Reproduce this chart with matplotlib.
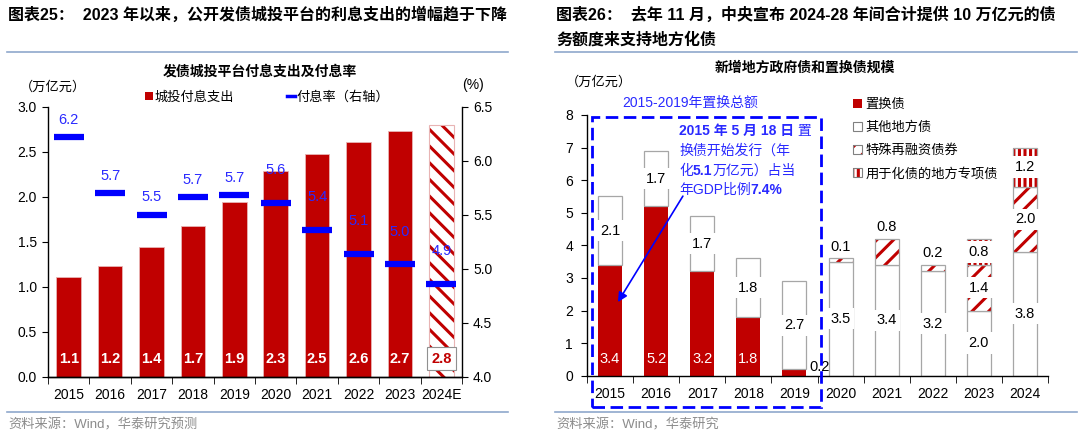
import numpy as np
import matplotlib
matplotlib.use('Agg')
import matplotlib.pyplot as plt
from matplotlib.patches import Patch, Rectangle
from matplotlib.lines import Line2D
from matplotlib.ticker import FormatStrFormatter, MultipleLocator

plt.rcParams['font.family'] = ['Liberation Sans', 'Noto Sans CJK SC']
plt.rcParams['hatch.linewidth'] = 2.2
plt.rcParams['axes.linewidth'] = 1.0

RED = '#c00000'
BLUE = '#0000ff'
TXTBLUE = '#2a2aff'
EDGE = '#a6a6a6'
RULE = '#8fa8cc'

# left chart: interest paid by LGFV bond issuers (trn yuan) and rate (%)
years_l = ['2015', '2016', '2017', '2018', '2019', '2020', '2021', '2022', '2023', '2024E']
interest = [1.11, 1.23, 1.44, 1.67, 1.94, 2.29, 2.47, 2.61, 2.73, 2.80]
rate = [6.22, 5.70, 5.50, 5.66, 5.68, 5.61, 5.36, 5.14, 5.04, 4.86]

# right chart: new local gov bonds and swap bonds (trn yuan)
years_r = ['2015', '2016', '2017', '2018', '2019', '2020', '2021', '2022', '2023', '2024']
swap = [3.4, 5.2, 3.2, 1.8, 0.2, 0, 0, 0, 0, 0]
other = [2.1, 1.7, 1.7, 1.8, 2.7, 3.5, 3.4, 3.2, 2.0, 3.8]
refi = [0, 0, 0, 0, 0, 0.1, 0.8, 0.2, 1.4, 2.0]
local = [0, 0, 0, 0, 0, 0, 0, 0, 0.8, 1.2]

W, H = 1080, 437


def fx(px):
    return px / W


def fy(py):
    return 1 - py / H


fig = plt.figure(figsize=(W / 100, H / 100), dpi=100)

# ---------------- left panel ----------------
ax1 = fig.add_axes([fx(48), fy(376.7), fx(462 - 48), (376.7 - 106.7) / H])
x1 = np.arange(len(years_l))
ax1.bar(x1[:-1], interest[:-1], 0.59, color=RED, edgecolor='#e8b4b4', linewidth=0.6, zorder=2)
ax1.bar(x1[-1:], interest[-1:], 0.59, color='white', edgecolor=RED, hatch='\\\\', linewidth=0, zorder=2)
ax1.bar(x1[-1:], interest[-1:], 0.59, fill=False, edgecolor='#e8b4b4', linewidth=0.8, zorder=2)
for i, v in enumerate(interest):
    if i < len(interest) - 1:
        ax1.text(i, 0.2, f'{v:.1f}', ha='center', va='center', color='white',
                 fontsize=10.5, fontweight='bold', zorder=3)
    else:
        ax1.text(i, 0.2, f'{v:.1f}', ha='center', va='center', color=RED,
                 fontsize=10.5, fontweight='bold', zorder=3,
                 bbox=dict(boxstyle='square,pad=0.3', facecolor='white', edgecolor='#909090', lw=0.8))

ax1.set_xlim(-0.5, 9.5)
ax1.set_ylim(0, 3)
ax1.yaxis.set_major_locator(MultipleLocator(0.5))
ax1.yaxis.set_major_formatter(FormatStrFormatter('%.1f'))
ax1.set_xticks(x1, years_l)
ax1.set_xticks(np.arange(-0.5, 10, 1), minor=True)
ax1.tick_params(axis='x', which='major', length=0, pad=8, labelsize=10)
ax1.tick_params(axis='x', which='minor', length=5, direction='out')
ax1.tick_params(axis='y', length=4, direction='out', labelsize=10, pad=4)
ax1.spines['top'].set_visible(False)
ax1.spines['right'].set_visible(False)

ax1r = ax1.twinx()
ax1r.set_ylim(4, 6.5)
ax1r.yaxis.set_major_locator(MultipleLocator(0.5))
ax1r.yaxis.set_major_formatter(FormatStrFormatter('%.1f'))
ax1r.tick_params(axis='y', length=4, direction='out', labelsize=10, pad=4)
ax1r.spines['top'].set_visible(False)
ax1r.spines['left'].set_visible(False)
ax1r.plot(x1, rate, ls='none', marker='_', ms=21, mew=4.5, color=BLUE, zorder=4)
for i, r in enumerate(rate):
    ax1r.annotate(f'{r:.1f}', (i, r), xytext=(0, 12.5 if i < 5 else 23.5),
                  textcoords='offset points', ha='center', va='center',
                  color=TXTBLUE, fontsize=10.5)

h1 = [Patch(facecolor=RED, edgecolor='none'), Line2D([], [], color=BLUE, lw=2.5)]
fig.legend(h1, ['城投付息支出', '付息率（右轴）'], loc='center', bbox_to_anchor=(fx(267), fy(97)),
           ncol=2, frameon=False, fontsize=9.5, handlelength=0.6, handleheight=0.6,
           handletextpad=0.15, columnspacing=4, borderpad=0, borderaxespad=0)

fig.text(fx(8), fy(15), '图表25：  2023 年以来，公开发债城投平台的利息支出的增幅趋于下降',
         fontsize=11.5, fontweight='bold', va='center')
fig.text(fx(260), fy(72), '发债城投平台付息支出及付息率', fontsize=10, fontweight='bold',
         ha='center', va='center')
fig.text(fx(53), fy(87), '（万亿元）', fontsize=9.5, ha='center', va='center')
fig.text(fx(473), fy(85), '(%)', fontsize=10, ha='center', va='center')
fig.add_artist(Line2D([fx(7), fx(508)], [fy(52.3)] * 2, color=RULE, lw=1.2))
fig.add_artist(Line2D([fx(7), fx(508)], [fy(412.3)] * 2, color=RULE, lw=1.2))
fig.text(fx(8), fy(425), '资料来源：Wind，华泰研究预测', color='#8c8c8c', fontsize=9.5, va='center')

# ---------------- right panel ----------------
ax2 = fig.add_axes([fx(587), fy(375.7), fx(1048 - 587), (375.7 - 115) / H])
x2 = np.arange(len(years_r))
bw = 0.52
sw = np.array(swap)
ot = np.array(other)
rf = np.array(refi)
lc = np.array(local)
b_rf = sw + ot
b_lc = b_rf + rf

m = sw > 0
ax2.bar(x2[m], sw[m], bw, color=RED, linewidth=0, zorder=2)
ax2.bar(x2, ot, bw, bottom=sw, color='white', edgecolor=EDGE, linewidth=0.9, zorder=2)
m = rf > 0
ax2.bar(x2[m], rf[m], bw, bottom=b_rf[m], color='white', edgecolor=RED, hatch='//', linewidth=0, zorder=2)
ax2.bar(x2[m], rf[m], bw, bottom=b_rf[m], fill=False, edgecolor=EDGE, linewidth=0.9, zorder=2)
m = lc > 0
ax2.bar(x2[m], lc[m], bw, bottom=b_lc[m], color='white', edgecolor=RED, hatch='|||', linewidth=0, zorder=2)
ax2.bar(x2[m], lc[m], bw, bottom=b_lc[m], fill=False, edgecolor=EDGE, linewidth=0.9, zorder=2)

box = dict(boxstyle='square,pad=0.25', facecolor='white', edgecolor='none')
for i in range(len(years_r)):
    if sw[i] >= 0.5:
        ax2.text(i, 0.5, f'{sw[i]:.1f}', ha='center', va='center', color='white', fontsize=10.5, zorder=3)
    elif sw[i] > 0:
        ax2.annotate(f'{sw[i]:.1f}', (i + bw / 2, sw[i] + 0.07), xytext=(2, 0), textcoords='offset points',
                     ha='left', va='center', fontsize=10.5, zorder=3)
    ax2.text(i, sw[i] + ot[i] / 2, f'{ot[i]:.1f}', ha='center', va='center', fontsize=10.5, bbox=box, zorder=3)
    if rf[i] > 0:
        if rf[i] < 1:
            ax2.annotate(f'{rf[i]:.1f}', (i, b_lc[i] + lc[i]), xytext=(0, 8.5), textcoords='offset points',
                         ha='center', va='center', fontsize=10.5, zorder=3)
        else:
            ax2.text(i, b_rf[i] + rf[i] / 2, f'{rf[i]:.1f}', ha='center', va='center', fontsize=10.5,
                     bbox=box, zorder=3)
    if lc[i] > 0:
        ax2.text(i, b_lc[i] + lc[i] / 2, f'{lc[i]:.1f}', ha='center', va='center', fontsize=10.5,
                 bbox=box, zorder=3)

ax2.set_xlim(-0.5, 9.5)
ax2.set_ylim(0, 8)
ax2.yaxis.set_major_locator(MultipleLocator(1))
ax2.set_xticks(x2, years_r)
ax2.set_xticks(np.arange(-0.5, 10, 1), minor=True)
ax2.tick_params(axis='x', which='major', length=0, pad=8, labelsize=10)
ax2.tick_params(axis='x', which='minor', length=5, direction='out')
ax2.tick_params(axis='y', length=4, direction='out', labelsize=10, pad=6)
ax2.spines['top'].set_visible(False)
ax2.spines['right'].set_visible(False)

# annotation arrow and text
ax2.annotate('', xy=(0.17, 2.26), xytext=(1.58, 5.51),
             arrowprops=dict(arrowstyle='-|>', color=BLUE, lw=1.2, mutation_scale=14, shrinkA=0, shrinkB=0))

note_lines = [
    (131, [('2015 年 5 月 18 日', 'bold'), (' 置', 'normal')]),
    (151, [('换债开始发行（年', 'normal')]),
    (171, [('化', 'normal'), ('5.1', 'bold'), ('万亿元）占当', 'normal')]),
    (190, [('年GDP比例', 'normal'), ('7.4%', 'bold')]),
]
for py, parts in note_lines:
    t = ax2.annotate(parts[0][0], xy=(fx(679), fy(py)), xycoords='figure fraction', ha='left', va='center',
                     color=TXTBLUE, fontsize=10, fontweight=parts[0][1])
    for s, wgt in parts[1:]:
        t = ax2.annotate(s, xy=(1, 0.5), xycoords=t, ha='left', va='center',
                         color=TXTBLUE, fontsize=10, fontweight=wgt)

fig.add_artist(Rectangle((fx(592), fy(407)), fx(821 - 592), (407 - 117) / H, transform=fig.transFigure,
                         fill=False, edgecolor=BLUE, lw=2, linestyle=(0, (4.5, 2)), zorder=5))
fig.text(fx(690), fy(103), '2015-2019年置换总额', color=TXTBLUE, fontsize=10, ha='center', va='center')

gray_edge = dict(fill=False, edgecolor='#808080', lw=0.8)
h2 = [Patch(facecolor=RED, edgecolor=RED, lw=0),
      Patch(facecolor='white', edgecolor='#808080', lw=0.8),
      (Patch(facecolor='white', edgecolor=RED, hatch='//', lw=0), Patch(**gray_edge)),
      (Patch(facecolor='white', edgecolor=RED, hatch='|||', lw=0), Patch(**gray_edge))]
fig.legend(h2, ['置换债', '其他地方债', '特殊再融资债券', '用于化债的地方专项债'], loc='center left',
           bbox_to_anchor=(fx(853), fy(139.5)), frameon=False, fontsize=9.5, handlelength=0.65,
           handleheight=0.65, handletextpad=0.3, labelspacing=0.8, borderpad=0, borderaxespad=0)

fig.text(fx(556), fy(15), '图表26：  去年 11 月，中央宣布 2024-28 年间合计提供 10 万亿元的债',
         fontsize=11.5, fontweight='bold', va='center')
fig.text(fx(556), fy(40), '务额度来支持地方化债', fontsize=11.5, fontweight='bold', va='center')
fig.text(fx(805), fy(68), '新增地方政府债和置换债规模', fontsize=10, fontweight='bold', ha='center', va='center')
fig.text(fx(599), fy(82), '（万亿元）', fontsize=9.5, ha='center', va='center')
fig.add_artist(Line2D([fx(555), fx(1077)], [fy(52.3)] * 2, color=RULE, lw=1.2))
fig.add_artist(Line2D([fx(555), fx(1077)], [fy(412.3)] * 2, color=RULE, lw=1.2))
fig.text(fx(556), fy(425), '资料来源：Wind，华泰研究', color='#8c8c8c', fontsize=9.5, va='center')

fig.savefig('out.png', dpi=100)
